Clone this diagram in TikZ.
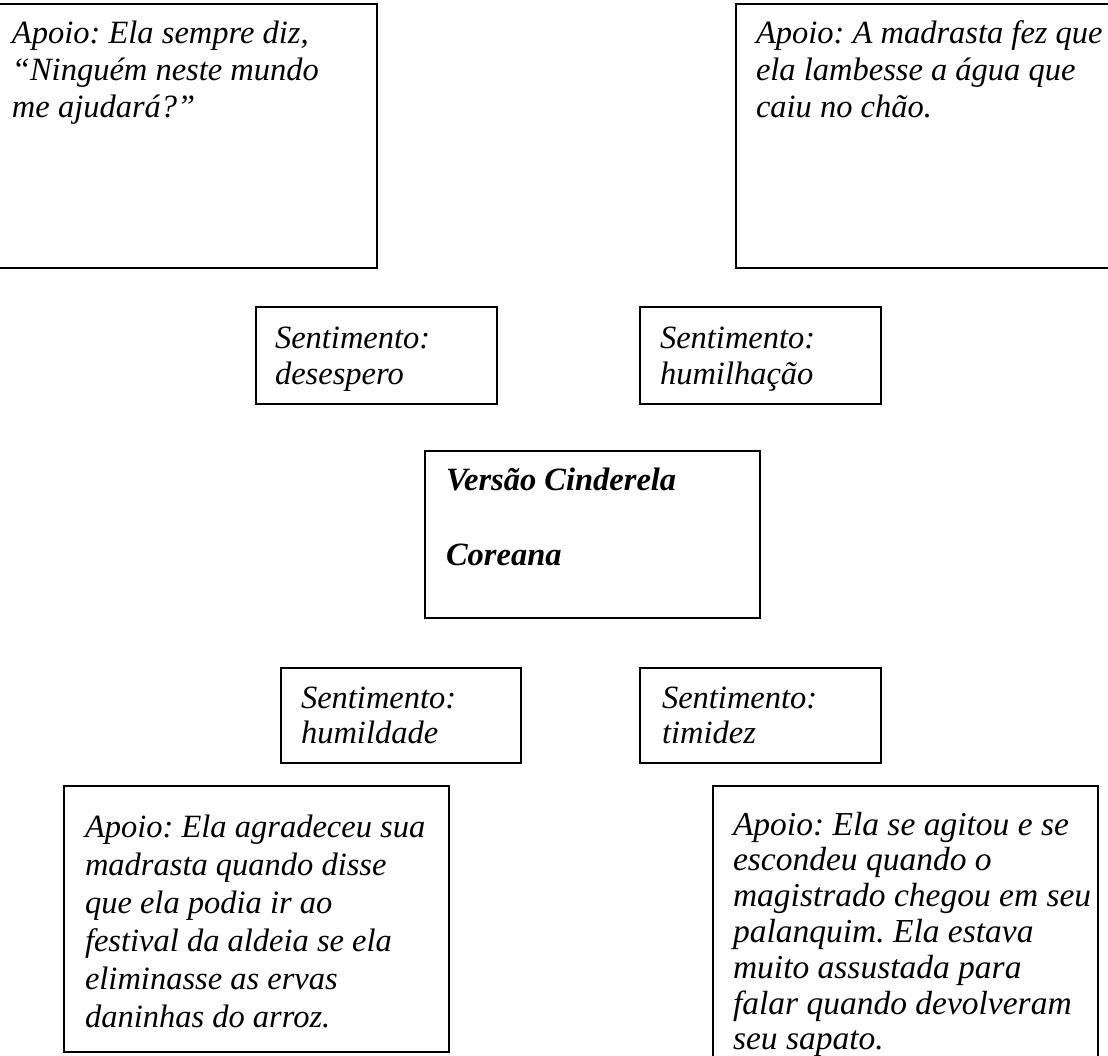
\documentclass[tikz,border=0pt]{standalone}
\usepackage{fontspec}
\setmainfont{Liberation Serif}
\frenchspacing
\newcommand{\mlines}[1]{\begin{tabular}[t]{@{}l@{}}#1\end{tabular}}
\begin{document}
\begin{tikzpicture}[x=1pt,y=-1pt,
  boxframe/.style={draw=black, line width=1.8pt, inner sep=0pt, outer sep=0pt, anchor=north west},
  boxtext/.style={anchor=base west, inner sep=0pt, outer sep=0pt, align=left,
    font=\fontsize{32.5}{37}\selectfont\itshape},
]
\useasboundingbox (0,0) rectangle (1108,1055);

% top support boxes
\node[boxframe, minimum width=382pt, minimum height=264pt] (b1) at (-5,4) {};
\node[boxtext] (t1) at (12,43) {\mlines{Apoio: Ela sempre diz,\\“Ninguém neste mundo\\me ajudará?”}};

\node[boxframe, minimum width=379pt, minimum height=264pt] (b2) at (736,4) {};
\node[boxtext] (t2) at (756,43) {\mlines{Apoio: A madrasta fez que\\ela lambesse a água que\\caiu no chão.}};

% upper feeling boxes
\node[boxframe, minimum width=241pt, minimum height=97pt] (b3) at (256,307) {};
\node[boxtext, font=\fontsize{32.5}{36}\selectfont\itshape] (t3) at (275,348) {\mlines{Sentimento:\\desespero}};

\node[boxframe, minimum width=241pt, minimum height=97pt] (b4) at (640,307) {};
\node[boxtext, font=\fontsize{32.5}{36}\selectfont\itshape] (t4) at (660,348) {\mlines{Sentimento:\\humilhação}};

% centre box
\node[boxframe, minimum width=335pt, minimum height=167pt] (b5) at (425,451) {};
\node[boxtext, font=\fontsize{32.5}{37}\selectfont\bfseries\itshape] (t5) at (446,490)
  {\mlines{Versão Cinderela\\[1pt]\\Coreana}};

% lower feeling boxes
\node[boxframe, minimum width=240pt, minimum height=95pt] (b6) at (281,668) {};
\node[boxtext, font=\fontsize{32.5}{35}\selectfont\itshape] (t6) at (301,708) {\mlines{Sentimento:\\humildade}};

\node[boxframe, minimum width=241pt, minimum height=95pt] (b7) at (640,668) {};
\node[boxtext, font=\fontsize{32.5}{35}\selectfont\itshape] (t7) at (662,708) {\mlines{Sentimento:\\timidez}};

% bottom support boxes
\node[boxframe, minimum width=385pt, minimum height=266pt] (b8) at (64,786) {};
\node[boxtext, font=\fontsize{32.5}{38}\selectfont\itshape] (t8) at (85,837)
  {\mlines{Apoio: Ela agradeceu sua\\madrasta quando disse\\que ela podia ir ao\\festival da aldeia se ela\\eliminasse as ervas\\daninhas do arroz.}};

\node[boxframe, minimum width=385pt, minimum height=290pt] (b9) at (713,786) {};
\node[boxtext, font=\fontsize{33.5}{35.8}\selectfont\itshape] (t9) at (733,835)
  {\mlines{Apoio: Ela se agitou e se\\escondeu quando o\\magistrado chegou em seu\\palanquim. Ela estava\\muito assustada para\\falar quando devolveram\\seu sapato.}};
\end{tikzpicture}
\end{document}
